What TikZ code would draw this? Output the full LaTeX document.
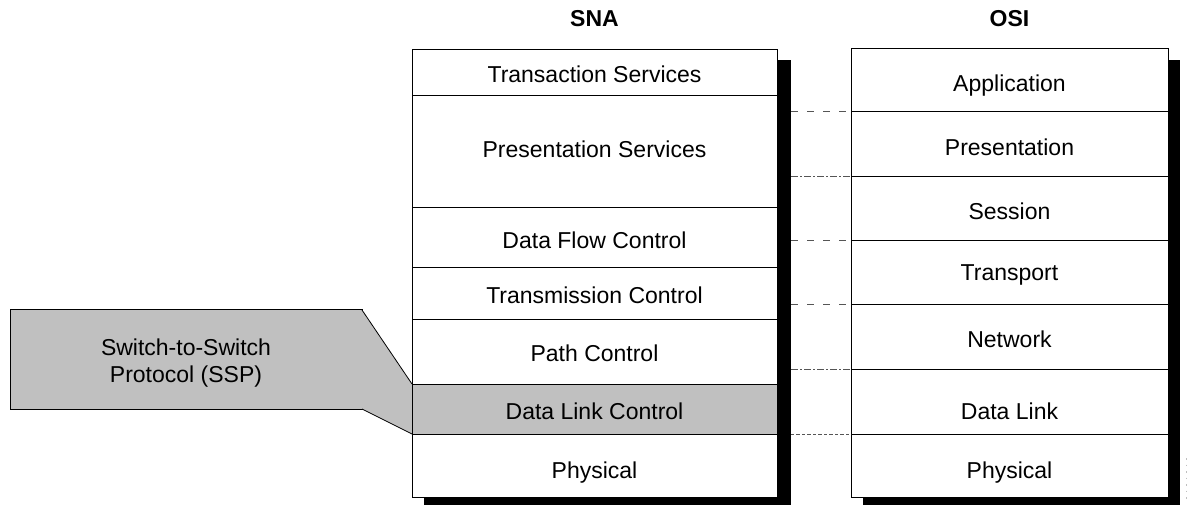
\documentclass[tikz,border=0pt]{standalone}
\usepackage{fontspec}
\setmainfont{Liberation Sans}
\definecolor{callgray}{RGB}{192,192,192}
\definecolor{linkgray}{RGB}{85,85,85}
\begin{document}
\begin{tikzpicture}[x=1pt,y=-1pt,
  layer/.style={draw=black,fill=white,line width=1pt,inner sep=0pt,outer sep=0pt,anchor=north west},
  snarow/.style={layer,minimum width=365pt},
  osirow/.style={layer,minimum width=317pt},
  lbl/.style={anchor=base,inner sep=0pt,font=\fontsize{23}{26.5}\selectfont},
  ttl/.style={anchor=base,inner sep=0pt,font=\fontsize{23}{25}\selectfont\bfseries},
  shadowbox/.style={fill=black,draw=none},
  maplink/.style={draw=linkgray,line width=1pt},
]
\useasboundingbox (0,0) rectangle (1187,505);

% titles
\node[ttl] (tsna) at (594.5,27) {SNA};
\node[ttl] (tosi) at (1009.5,27) {OSI};

% shadows
\fill[shadowbox] (424,60) rectangle (791,505);
\fill[shadowbox] (863,60) rectangle (1180,505);

% callout
\node[layer,fill=callgray,minimum width=352pt,minimum height=99pt] (ssp) at (10,310) {};
\node[lbl,align=center] (ssptext) at (186,382) {Switch-to-Switch\\Protocol (SSP)};

% SNA stack
\node[snarow,minimum height=46pt]  (s1) at (412,50)  {};
\node[snarow,minimum height=112pt] (s2) at (412,96)  {};
\node[snarow,minimum height=60pt]  (s3) at (412,208) {};
\node[snarow,minimum height=52pt]  (s4) at (412,268) {};
\node[snarow,minimum height=64pt]  (s5) at (412,320) {};
\node[snarow,fill=callgray,minimum height=50pt] (s6) at (412,384) {};
\node[snarow,minimum height=63pt]  (s7) at (412,434) {};

% wedge of the callout
\fill[callgray] (ssp.north east) -- (s6.north west) -- (s6.south west) -- (ssp.south east) -- cycle;
\draw[line width=0.8pt] (ssp.north east) -- (s6.north west);
\draw[line width=0.8pt] (ssp.south east) -- (s6.south west);
\draw[line width=1pt] (s6.north west) -- (s6.south west);

\node[lbl] (l1) at (594.5,83)  {Transaction Services};
\node[lbl] (l2) at (594.5,158) {Presentation Services};
\node[lbl] (l3) at (594.5,249) {Data Flow Control};
\node[lbl] (l4) at (594.5,304) {Transmission Control};
\node[lbl] (l5) at (594.5,361) {Path Control};
\node[lbl] (l6) at (594.5,419) {Data Link Control};
\node[lbl] (l7) at (594.5,478) {Physical};

% OSI stack
\node[osirow,minimum height=63pt] (o1) at (851,49)  {};
\node[osirow,minimum height=65pt] (o2) at (851,112) {};
\node[osirow,minimum height=64pt] (o3) at (851,177) {};
\node[osirow,minimum height=64pt] (o4) at (851,241) {};
\node[osirow,minimum height=64pt] (o5) at (851,305) {};
\node[osirow,minimum height=65pt] (o6) at (851,369) {};
\node[osirow,minimum height=63pt] (o7) at (851,434) {};

\node[lbl] (m1) at (1009.5,92)  {Application};
\node[lbl] (m2) at (1009.5,156) {Presentation};
\node[lbl] (m3) at (1009.5,220) {Session};
\node[lbl] (m4) at (1009.5,281) {Transport};
\node[lbl] (m5) at (1009.5,347) {Network};
\node[lbl] (m6) at (1009.5,419) {Data Link};
\node[lbl] (m7) at (1009.5,478) {Physical};

% mapping lines
\coordinate (c1) at (791,112);
\coordinate (c2) at (791,177);
\coordinate (c3) at (791,241);
\coordinate (c4) at (791,305);
\coordinate (c5) at (791,369);
\coordinate (c6) at (791,434);
\draw[maplink,dash pattern=on 7pt off 9pt] (c1) -- (o2.north west);
\draw[maplink,dash pattern=on 7pt off 2pt on 2pt off 2pt] (c2) -- (o3.north west);
\draw[maplink,dash pattern=on 7pt off 9pt] (c3) -- (o4.north west);
\draw[maplink,dash pattern=on 7pt off 9pt] (c4) -- (o5.north west);
\draw[maplink,dash pattern=on 7pt off 2pt on 2pt off 2pt] (c5) -- (o6.north west);
\draw[maplink,dash pattern=on 3pt off 2pt on 4pt off 2pt] (c6) -- (o7.north west);

% faint dotted mark at the right edge
\coordinate (d1) at (1186,458);
\coordinate (d2) at (1186,502);
\draw[gray!50,line width=0.8pt,dash pattern=on 1.5pt off 5pt] (d1) -- (d2);
\end{tikzpicture}
\end{document}
